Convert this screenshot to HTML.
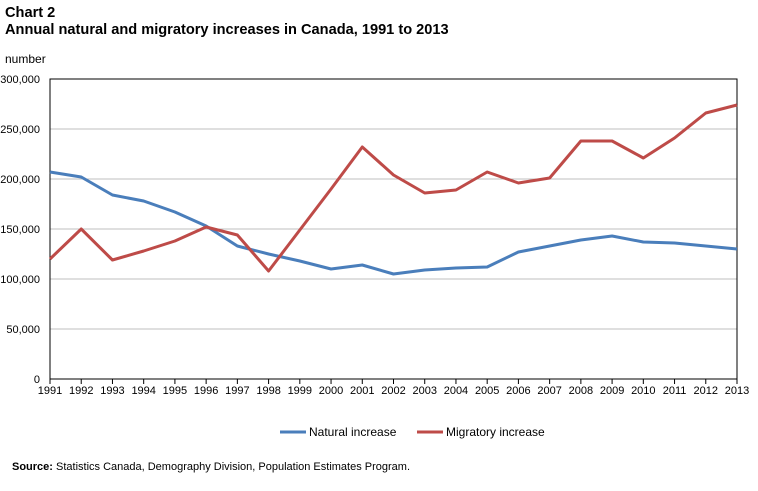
<!DOCTYPE html>
<html><head><meta charset="utf-8"><style>
body{margin:0;background:#fff;font-family:"Liberation Sans",Arial,sans-serif;}
svg text{font-family:"Liberation Sans",Arial,sans-serif;}
</style></head><body>
<svg id="c" width="758" height="486">
<text x="5" y="17" font-size="14.6" font-weight="bold">Chart 2</text>
<text x="5" y="34" font-size="14.6" font-weight="bold">Annual natural and migratory increases in Canada, 1991 to 2013</text>
<text x="5" y="63" font-size="12">number</text>
<g id="grid"></g><g id="series"></g>
<g>
<line x1="280" y1="432" x2="306" y2="432" stroke="#4a7ebb" stroke-width="3"/>
<text x="309" y="436" font-size="12">Natural increase</text>
<line x1="417" y1="432" x2="443" y2="432" stroke="#be4b48" stroke-width="3"/>
<text x="446" y="436" font-size="12">Migratory increase</text>
</g>
<text x="12" y="470" font-size="11"><tspan font-weight="bold">Source:</tspan> Statistics Canada, Demography Division, Population Estimates Program.</text>
</svg>
<script>
const years=[1991,1992,1993,1994,1995,1996,1997,1998,1999,2000,2001,2002,2003,2004,2005,2006,2007,2008,2009,2010,2011,2012,2013];
const natural=[207000,202000,184000,178000,167000,153000,133000,125000,118000,110000,114000,105000,109000,111000,112000,127000,133000,139000,143000,137000,136000,133000,130000];
const migratory=[120000,150000,119000,128000,138000,152000,144000,108000,149000,190000,232000,204000,186000,189000,207000,196000,201000,238000,238000,221000,241000,266000,274000];
const yTicks=[0,50000,100000,150000,200000,250000,300000];
const yTickLabels=["0","50,000","100,000","150,000","200,000","250,000","300,000"];
const NS="http://www.w3.org/2000/svg";
const L=50,R=737,T=79,B=379,ymax=300000;
const x=i=>L+(R-L)*i/(years.length-1);
const y=v=>B-(B-T)*v/ymax;
function mk(tag,at,parent){const e=document.createElementNS(NS,tag);for(const k in at)e.setAttribute(k,at[k]);parent.appendChild(e);return e;}
const g=document.getElementById('grid');
yTicks.forEach((t,i)=>{
 if(t>0&&t<ymax){const ln=mk('line',{x1:L,x2:R,y1:y(t),y2:y(t),stroke:'#bfbfbf','stroke-width':1},g);
 
 }
 const tx=mk('text',{x:L-10,y:y(t)+4,'font-size':11,'text-anchor':'end'},g);tx.textContent=yTickLabels[i];
 
 
});
const fr=mk('rect',{x:L,y:T,width:R-L,height:B-T,fill:'none',stroke:'#000','stroke-width':1},g);


years.forEach((yr,i)=>{
 const tk=mk('line',{x1:x(i),x2:x(i),y1:B,y2:B+5,stroke:'#000'},g);
 
 
 const tx=mk('text',{x:x(i),y:B+15,'font-size':11,'text-anchor':'middle'},g);tx.textContent=yr;
 
 
});
const s=document.getElementById('series');
function line(vals,col,name){const p=mk('polyline',{points:vals.map((v,i)=>x(i)+','+y(v)).join(' '),fill:'none',stroke:col,'stroke-width':3,'stroke-linejoin':'round'},s);
 
 }
line(natural,'#4a7ebb','natural-increase-line');
line(migratory,'#be4b48','migratory-increase-line');
</script>
</body></html>
